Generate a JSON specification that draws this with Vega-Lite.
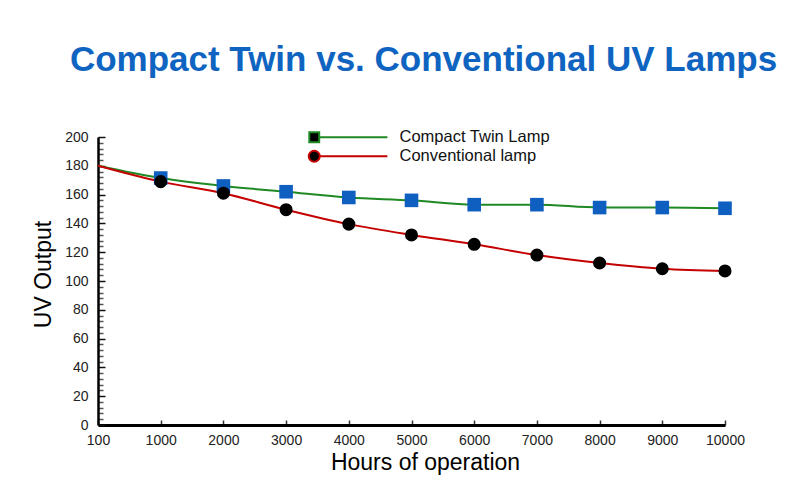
{
  "$schema": "https://vega.github.io/schema/vega-lite/v6.json",
  "autosize": "none",
  "width": 627,
  "height": 288,
  "padding": {"left": 98, "top": 137, "right": 84, "bottom": 67},
  "background": "white",
  "config": {
    "view": {"stroke": null},
    "font": "Liberation Sans"
  },
  "title": {
    "text": "Compact Twin vs. Conventional UV Lamps",
    "fontSize": 35,
    "fontWeight": "bold",
    "color": "#0e64c0",
    "font": "Liberation Sans",
    "anchor": "middle",
    "dx": 12,
    "baseline": "alphabetic",
    "offset": 23
  },
  "data": {
    "values": [
      {"hours": 100, "series": "Compact Twin Lamp", "uv": 180},
      {"hours": 1000, "series": "Compact Twin Lamp", "uv": 171.5},
      {"hours": 2000, "series": "Compact Twin Lamp", "uv": 166},
      {"hours": 3000, "series": "Compact Twin Lamp", "uv": 162},
      {"hours": 4000, "series": "Compact Twin Lamp", "uv": 158},
      {"hours": 5000, "series": "Compact Twin Lamp", "uv": 156},
      {"hours": 6000, "series": "Compact Twin Lamp", "uv": 153},
      {"hours": 7000, "series": "Compact Twin Lamp", "uv": 153},
      {"hours": 8000, "series": "Compact Twin Lamp", "uv": 151},
      {"hours": 9000, "series": "Compact Twin Lamp", "uv": 151},
      {"hours": 10000, "series": "Compact Twin Lamp", "uv": 150.5},
      {"hours": 100, "series": "Conventional lamp", "uv": 180},
      {"hours": 1000, "series": "Conventional lamp", "uv": 169},
      {"hours": 2000, "series": "Conventional lamp", "uv": 161},
      {"hours": 3000, "series": "Conventional lamp", "uv": 149.5},
      {"hours": 4000, "series": "Conventional lamp", "uv": 139.5},
      {"hours": 5000, "series": "Conventional lamp", "uv": 132},
      {"hours": 6000, "series": "Conventional lamp", "uv": 125.5},
      {"hours": 7000, "series": "Conventional lamp", "uv": 118},
      {"hours": 8000, "series": "Conventional lamp", "uv": 112.5},
      {"hours": 9000, "series": "Conventional lamp", "uv": 108.5},
      {"hours": 10000, "series": "Conventional lamp", "uv": 107}
    ]
  },
  "encoding": {
    "x": {
      "field": "hours",
      "type": "ordinal",
      "scale": {"type": "point", "padding": 0},
      "axis": {
        "title": "Hours of operation",
        "titleFontSize": 23,
        "titleFontWeight": "normal",
        "titleColor": "black",
        "titleX": 327,
        "titleY": 44,
        "titleBaseline": "alphabetic",
        "labelAngle": 0,
        "labelFontSize": 14,
        "labelColor": "#222",
        "labelPadding": 13,
        "tickSize": -5,
        "tickColor": "#333",
        "tickWidth": 1.5,
        "domainColor": "black",
        "domainWidth": 3,
        "grid": false
      }
    },
    "y": {
      "field": "uv",
      "type": "quantitative",
      "scale": {"domain": [0, 200], "nice": false},
      "axis": {
        "title": "UV Output",
        "titleFontSize": 23,
        "titleFontWeight": "normal",
        "titleColor": "black",
        "titleX": -55,
        "titleY": 137,
        "titleAngle": 270,
        "titleBaseline": "middle",
        "titleAlign": "center",
        "values": [0,4,8,12,16,20,24,28,32,36,40,44,48,52,56,60,64,68,72,76,80,84,88,92,96,100,104,108,112,116,120,124,128,132,136,140,144,148,152,156,160,164,168,172,176,180,184,188,192,196,200],
        "labelExpr": "datum.value % 20 === 0 ? datum.label : ''",
        "labelFontSize": 14,
        "labelColor": "#222",
        "labelPadding": 17,
        "tickSize": {"condition": {"test": "datum.value % 20 === 0", "value": -7}, "value": -5},
        "tickColor": {"condition": {"test": "datum.value % 20 === 0", "value": "#111"}, "value": "#555"},
        "tickWidth": 1.5,
        "domainColor": "black",
        "domainWidth": 2.5,
        "grid": false
      }
    }
  },
  "layer": [
    {
      "mark": {"type": "line", "interpolate": "monotone", "strokeWidth": 2},
      "encoding": {
        "stroke": {
          "field": "series",
          "type": "nominal",
          "scale": {"domain": ["Compact Twin Lamp", "Conventional lamp"], "range": ["#1f8a24", "#c40000"]},
          "legend": {
            "title": null,
            "orient": "none",
            "legendX": 208,
            "legendY": -8,
            "labelFontSize": 16.5,
            "labelColor": "#111",
            "labelOffset": 77,
            "rowPadding": -1,
            "symbolSize": 121,
            "symbolStrokeWidth": 2,
            "symbolFillColor": "black",
            "encode": {
              "symbols": {
                "update": {
                  "shape": {"signal": "datum.value === 'Compact Twin Lamp' ? 'M-0.9,-0.9H0.9V0.9H-0.9ZM0.9,0H13.3' : 'M-1,0A1,1 0 1,0 1,0A1,1 0 1,0 -1,0ZM1,0H13.3'"},
                  "fill": {"value": "black"},
                  "strokeWidth": {"value": 2}
                }
              }
            }
          }
        }
      }
    },
    {
      "transform": [{"filter": "datum.hours > 100 && datum.series === 'Compact Twin Lamp'"}],
      "mark": {"type": "point", "filled": true, "opacity": 1, "size": 185, "shape": "square", "color": "#0f5fc0"},
      "encoding": {}
    },
    {
      "transform": [{"filter": "datum.hours > 100 && datum.series === 'Conventional lamp'"}],
      "mark": {"type": "point", "filled": true, "opacity": 1, "size": 170, "shape": "circle", "color": "#000000"},
      "encoding": {}
    }
  ]
}
